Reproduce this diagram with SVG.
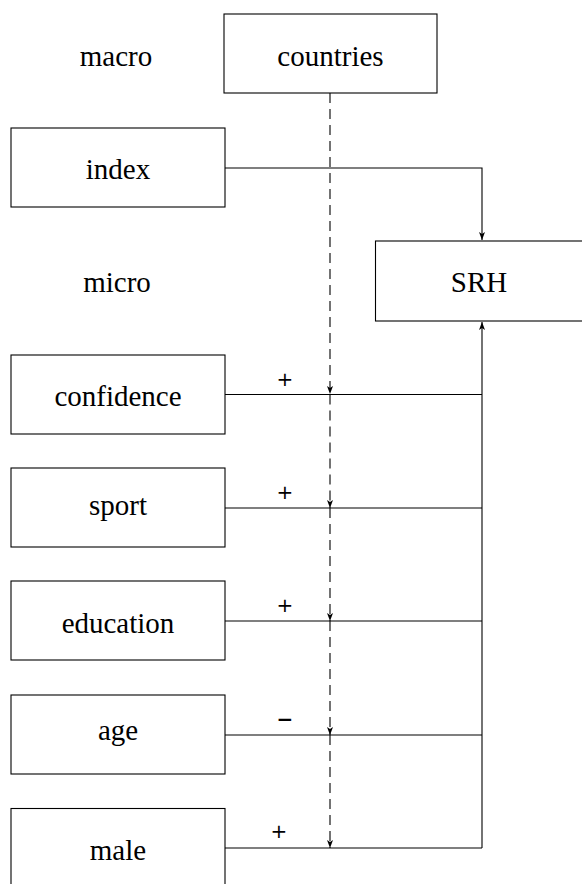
<svg xmlns="http://www.w3.org/2000/svg" width="582" height="884" viewBox="0 0 582 884">
<style>
.box{fill:#fff;stroke:#000;stroke-width:1.1}
.t{font-family:"Liberation Serif","DejaVu Serif",serif;font-size:29px;fill:#000;text-anchor:middle}
.c{fill:none;stroke:#000;stroke-width:1.1}
.d{fill:none;stroke:#000;stroke-width:1.1;stroke-dasharray:10 6}
.s{font-family:"DejaVu Sans","Liberation Sans",sans-serif;font-size:20px;fill:#000;text-anchor:middle}
</style>
<defs>
<marker id="ah" viewBox="0 0 8 6" refX="8" refY="3" markerWidth="8" markerHeight="6" markerUnits="userSpaceOnUse" orient="auto">
<path d="M0,0 L8,3 L0,6 L2,3 Z" fill="#000"/>
</marker>
</defs>
<rect width="582" height="884" fill="#fff"/>
<g id="connectors">
<path class="c" d="M225,168 H482 V240" marker-end="url(#ah)"/>
<path class="c" d="M225,394.5 H482 M225,508 H482 M225,621 H482 M225,735 H482 M225,848 H482"/>
<path class="c" d="M482,848 V322" marker-end="url(#ah)"/>
<path class="d" d="M330,93 V394" marker-end="url(#ah)"/>
<path class="d" d="M330,394.5 V508" marker-end="url(#ah)"/>
<path class="d" d="M330,508 V621" marker-end="url(#ah)"/>
<path class="d" d="M330,621 V735" marker-end="url(#ah)"/>
<path class="d" d="M330,735 V848" marker-end="url(#ah)"/>
<text class="s" x="285" y="386">+</text>
<text class="s" x="285" y="499">+</text>
<text class="s" x="285" y="612">+</text>
<text class="s" x="285" y="726" font-weight="bold">−</text>
<text class="s" x="279" y="838">+</text>
</g>
<g id="macro"><text class="t" x="116" y="66">macro</text></g>
<g id="micro"><text class="t" x="117" y="292">micro</text></g>
<g id="countries"><rect class="box" x="224" y="14" width="213" height="79"/><text class="t" x="330.5" y="66">countries</text></g>
<g id="index"><rect class="box" x="11" y="128" width="214" height="79"/><text class="t" x="118" y="179">index</text></g>
<g id="SRH"><rect class="box" x="375.5" y="241" width="210" height="80"/><text class="t" x="479" y="292">SRH</text></g>
<g id="confidence"><rect class="box" x="11" y="355" width="214" height="79"/><text class="t" x="118" y="406">confidence</text></g>
<g id="sport"><rect class="box" x="11" y="468" width="214" height="79"/><text class="t" x="118" y="515">sport</text></g>
<g id="education"><rect class="box" x="11" y="581" width="214" height="79"/><text class="t" x="118" y="633">education</text></g>
<g id="age"><rect class="box" x="11" y="695" width="214" height="79"/><text class="t" x="118" y="740">age</text></g>
<g id="male"><rect class="box" x="11" y="808.5" width="214" height="79"/><text class="t" x="118" y="860">male</text></g>
</svg>
